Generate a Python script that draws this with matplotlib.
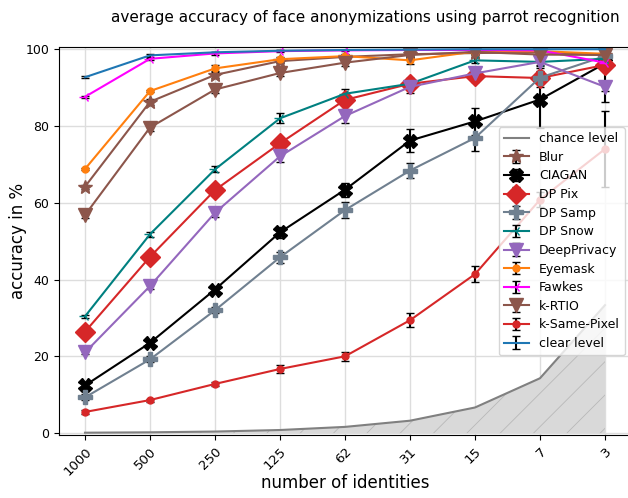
import numpy as np
import matplotlib
matplotlib.use('Agg')
import matplotlib.pyplot as plt

# number of identities (x ticks)
identities = ['1000', '500', '250', '125', '62', '31', '15', '7', '3']
n_ids = [1000, 500, 250, 125, 62, 31, 15, 7, 3]

# chance level in %
chance = [100.0 / n for n in n_ids]

# mean accuracy and error per method
blur = [64.2, 86.3, 93.3, 96.9, 98.0, 98.7, 99.0, 99.2, 98.5]
blur_err = [0.5, 0.8, 0.8, 0.6, 0.5, 0.5, 0.5, 0.5, 0.5]
ciagan = [12.4, 23.5, 37.4, 52.3, 63.4, 76.2, 81.2, 86.9, 96.3]
ciagan_err = [0.8, 0.8, 1.0, 1.5, 1.8, 3.0, 3.5, 7.5, 10.0]
dp_pix = [26.4, 45.9, 63.3, 75.5, 86.8, 91.0, 93.0, 92.5, 95.9]
dp_pix_err = [0.6, 0.6, 0.8, 1.0, 1.2, 1.5, 1.5, 1.2, 1.0]
dp_samp = [9.3, 19.2, 32.0, 45.8, 58.1, 68.4, 76.9, 92.6, 98.2]
dp_samp_err = [0.8, 0.8, 0.8, 1.5, 2.0, 2.0, 3.5, 2.5, 1.0]
dp_snow = [30.4, 51.8, 68.7, 82.0, 88.4, 91.0, 97.1, 96.7, 97.5]
dp_snow_err = [0.3, 0.6, 0.8, 1.3, 1.2, 1.0, 0.8, 0.7, 0.5]
deepprivacy = [21.0, 38.3, 57.4, 72.1, 82.6, 90.2, 93.7, 96.7, 90.2]
deepprivacy_err = [0.5, 0.8, 1.2, 1.5, 1.7, 1.5, 1.5, 1.0, 1.0]
eyemask = [68.8, 89.1, 95.0, 97.4, 98.2, 97.1, 99.4, 99.5, 98.8]
eyemask_err = [0.3, 0.3, 0.8, 0.6, 0.5, 1.0, 0.5, 0.3, 0.5]
fawkes = [87.6, 97.5, 98.9, 99.5, 99.7, 99.8, 99.8, 99.7, 96.5]
fawkes_err = [0.3, 0.3, 0.3, 0.2, 0.2, 0.2, 0.2, 0.3, 0.5]
k_rtio = [56.8, 79.6, 89.5, 93.8, 96.5, 98.5, 99.3, 98.6, 98.5]
k_rtio_err = [0.8, 0.8, 0.8, 0.8, 0.8, 0.5, 0.5, 0.8, 0.8]
k_same = [5.5, 8.6, 12.8, 16.7, 20.0, 29.4, 41.4, 60.8, 74.0]
k_same_err = [0.4, 0.4, 0.6, 1.0, 1.2, 1.8, 2.0, 2.0, 10.0]
clear = [92.7, 98.4, 99.2, 99.6, 99.8, 99.9, 100.0, 100.0, 100.0]
clear_err = [0.2, 0.3, 0.2, 0.1, 0.1, 0.1, 0.1, 0.1, 0.1]

series = [
    ('Blur', blur, blur_err, '#8c564b', '*', 10),
    ('CIAGAN', ciagan, ciagan_err, 'black', 'X', 10),
    ('DP Pix', dp_pix, dp_pix_err, '#d62728', 'D', 10),
    ('DP Samp', dp_samp, dp_samp_err, '#708090', 'P', 10),
    ('DP Snow', dp_snow, dp_snow_err, '#008080', '3', 8),
    ('DeepPrivacy', deepprivacy, deepprivacy_err, '#9467bd', 'v', 10),
    ('Eyemask', eyemask, eyemask_err, '#ff7f0e', 'o', 5),
    ('Fawkes', fawkes, fawkes_err, '#ff00ff', '3', 8),
    ('k-RTIO', k_rtio, k_rtio_err, '#8c564b', 'v', 10),
    ('k-Same-Pixel', k_same, k_same_err, '#d62728', 'o', 5),
    ('clear level', clear, clear_err, '#1f77b4', None, 6),
]

plt.rcParams['hatch.linewidth'] = 0.6

fig = plt.figure(figsize=(6.28, 4.98), dpi=100)
ax = fig.add_axes([59 / 628, 1 - 435 / 498, 572 / 628, (435 - 47.3) / 498])

x = np.arange(len(identities))

ax.plot(x, chance, color='gray', lw=1.5, label='chance level')
ax.fill_between(x, 0, chance, facecolor='#d9d9d9', edgecolor='#b8b8b8',
                hatch='/', linewidth=0)

for name, vals, err, col, mk, ms in series:
    ax.errorbar(x, vals, yerr=err, color=col, marker=mk, markersize=ms,
                ecolor='black', capsize=3, lw=1.5, label=name)

ax.set_xlim(-0.4, 8.4)
ax.set_ylim(-0.5, 100.5)
ax.set_xticks(x)
ax.set_xticklabels(identities, rotation=45, ha='right', rotation_mode='anchor',
                   fontsize=9.5)
ax.set_yticks([0, 20, 40, 60, 80, 100])
ax.tick_params(axis='y', labelsize=9)
ax.grid(True, color='#dddddd', lw=1)
ax.set_axisbelow(True)

ax.set_xlabel('number of identities', fontsize=12, labelpad=-2.5)
ax.set_ylabel('accuracy in %', fontsize=12, labelpad=-1.5)
ax.set_title('average accuracy of face anonymizations using parrot recognition',
             fontsize=11, x=0.535, pad=18)

ax.legend(loc='lower right', bbox_to_anchor=(1.0, 0.19), fontsize=9,
          borderaxespad=0.5, handlelength=2.0, labelspacing=0.45)

fig.savefig('out.png', dpi=100)
